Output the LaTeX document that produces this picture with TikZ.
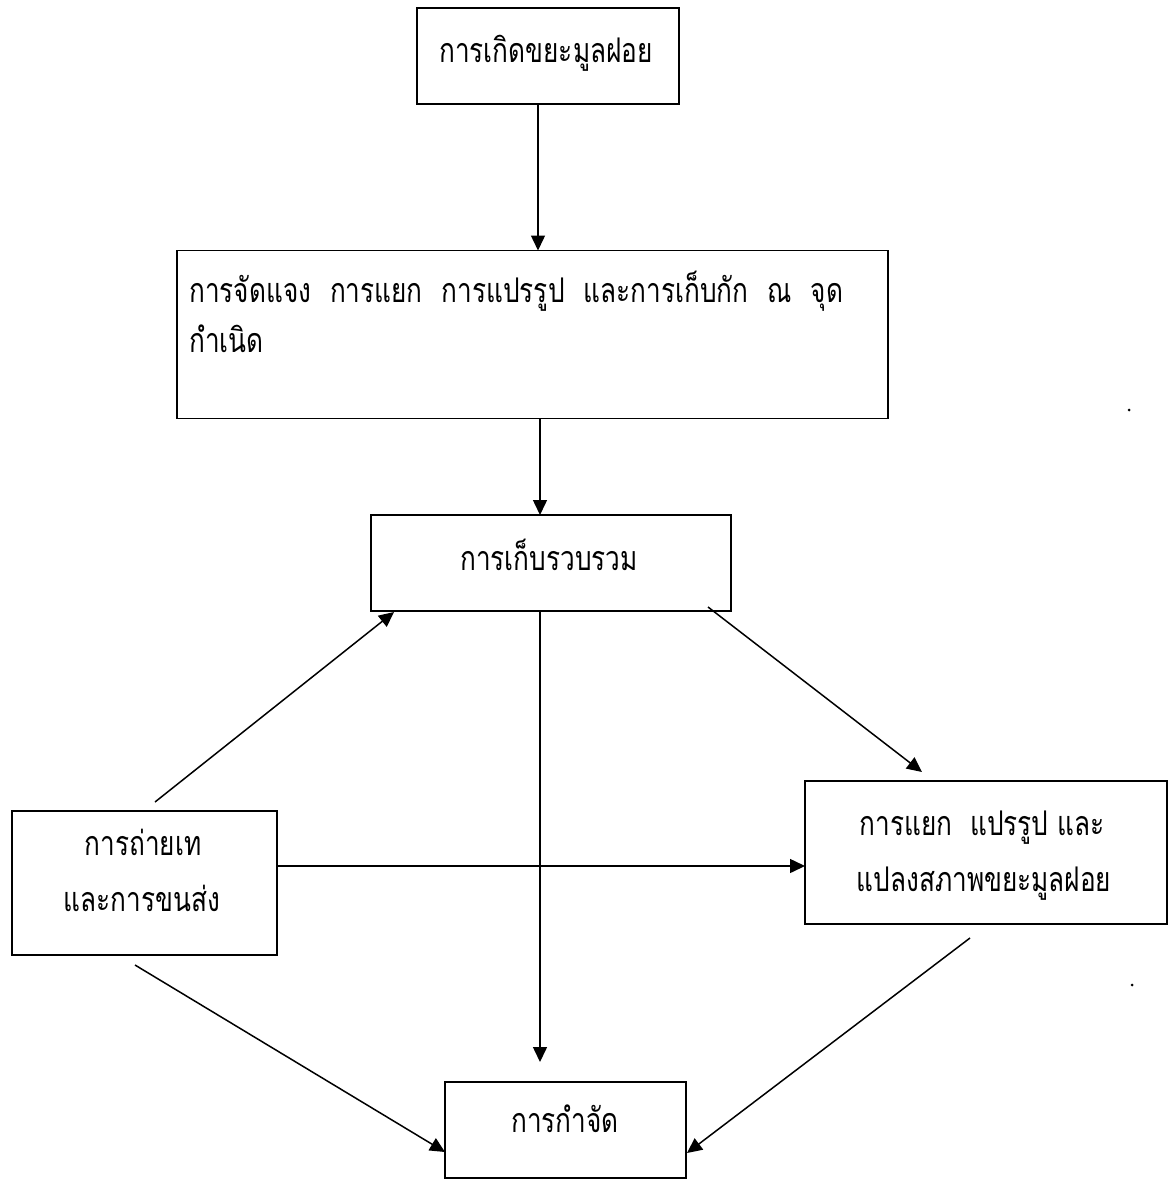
\documentclass[tikz,border=0pt]{standalone}
\usepackage{fontspec}
\newfontfamily\thaifont[Script=Thai,FakeStretch=0.77]{Loma}
\usetikzlibrary{arrows.meta,calc}
\newcommand\wgap{\hspace{19pt}}
\begin{document}
\begin{tikzpicture}[x=1pt,y=-1pt,
  box/.style={draw, line width=1.8pt, rectangle, inner sep=0pt, outer sep=0pt},
  txt/.style={font=\thaifont\fontsize{34}{40}\selectfont, inner sep=0pt, anchor=base},
  arr/.style={line width=1.5pt, -{Triangle[length=15pt,width=14pt]}}]
\useasboundingbox (0,0) rectangle (1173,1180);
% boxes
\node[box, minimum width=262pt, minimum height=96pt] (A) at (548,56) {};
\node[box, minimum width=711pt, minimum height=168pt] (B) at (532.5,334.5) {};
\node[box, minimum width=360pt, minimum height=96pt] (C) at (551,563) {};
\node[box, minimum width=265pt, minimum height=144pt] (D) at (144.5,883) {};
\node[box, minimum width=362pt, minimum height=143pt] (E) at (986,852.5) {};
\node[box, minimum width=241pt, minimum height=96pt] (F) at (565.5,1130) {};
% texts
\node[txt] (tA) at (546,63) {การเกิดขยะมูลฝอย};
\node[txt, anchor=base west] (tB1) at (189,302) {การจัดแจง\wgap การแยก\wgap การแปรรูป\wgap และการเก็บกัก\wgap ณ\wgap จุด};
\node[txt, anchor=base west] (tB2) at (189,352) {กำเนิด};
\node[txt] (tC) at (549,570) {การเก็บรวบรวม};
\node[txt] (tD1) at (143,855) {การถ่ายเท};
\node[txt] (tD2) at (142,911) {และการขนส่ง};
\node[txt] (tE1) at (982,835) {การแยก\ \ แปรรูป และ};
\node[txt] (tE2) at (984,891) {แปลงสภาพขยะมูลฝอย};
\node[txt] (tF) at (565,1132) {การกำจัด};
% connector ends
\coordinate (xa) at (538,0);
\coordinate (xb) at (540,0);
\coordinate (s3) at (155,802);
\coordinate (e3) at (394,612);
\coordinate (s4) at (708,607);
\coordinate (e4) at (922,772);
\coordinate (e5) at (540,1062);
\coordinate (s7) at (135,965);
\coordinate (e7) at (445,1152);
\coordinate (s8) at (970,938);
\coordinate (e8) at (687,1153);
% connectors
\draw[arr] (A.south -| xa) -- (B.north -| xa);
\draw[arr] (B.south -| xb) -- (C.north -| xb);
\draw[arr] (s3) -- (e3);
\draw[arr] (s4) -- (e4);
\draw[arr] (C.south -| xb) -- (e5);
\draw[arr] (D.east |- 0,866) -- (E.west |- 0,866);
\draw[arr] (s7) -- (e7);
\draw[arr] (s8) -- (e8);
% specks
\fill (1129,410) circle (1.5pt);
\fill (1132,985) circle (1.5pt);
\end{tikzpicture}
\end{document}
